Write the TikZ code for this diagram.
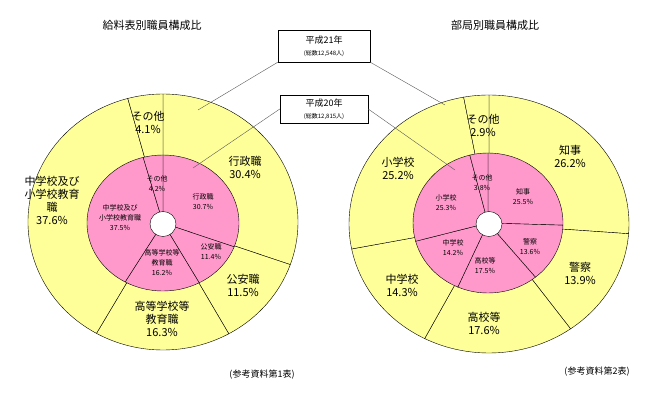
\documentclass[tikz,border=0pt]{standalone}
\usepackage{fontspec}
\setmainfont{Noto Sans CJK JP}
\begin{document}
\begin{tikzpicture}[x=1pt,y=-1pt,
  ob/.style={font=\fontsize{11}{13}\selectfont,align=center},
  ib/.style={font=\fontsize{7}{10}\selectfont,align=center},
  ln/.style={draw=black,line width=0.4pt}]
\useasboundingbox (0,0) rectangle (666,401);
\definecolor{yel}{HTML}{FFFF99}\definecolor{pnk}{HTML}{FF99CC}
\newcommand{\slice}[7]{% cx cy rx ry a b color
  \filldraw[fill=#7,ln] (#1,#2) -- ++(#5:#3 and #4) arc[start angle=#5,end angle=#6,x radius=#3,y radius=#4] -- cycle;}
% left
\foreach \a/\b in {-90/19.44,19.44/60.84,60.84/119.52,119.52/254.88,254.88/270}{\slice{163}{222}{135}{128}{\a}{\b}{yel}}
\foreach \a/\b in {-90/20.52,20.52/61.56,61.56/119.88,119.88/254.88,254.88/270}{\slice{163}{223}{76}{68}{\a}{\b}{pnk}}
\filldraw[fill=white,ln] (163,224) ellipse[x radius=13,y radius=12.5];
% right
\foreach \a/\b in {-90/4.32,4.32/54.36,54.36/117.36,117.36/168.84,168.84/259.56,259.56/270}{\slice{489}{224}{140}{129}{\a}{\b}{yel}}
\foreach \a/\b in {-90/1.8,1.8/50.76,50.76/113.76,113.76/164.88,164.88/255.96,255.96/270}{\slice{488}{223}{75}{70}{\a}{\b}{pnk}}
\filldraw[fill=white,ln] (489,224) ellipse[x radius=13,y radius=12.5];
% titles
\node[font=\fontsize{11}{13}\selectfont] (t1) at (152,25) {給料表別職員構成比};
\node[font=\fontsize{11}{13}\selectfont] (t2) at (495,25) {部局別職員構成比};
% boxes
\node[draw,fill=white,minimum width=92,minimum height=32,align=center,inner sep=1] (b21) at (324,46) {{\fontsize{9}{11}\selectfont 平成21年}\\{\fontsize{6}{8}\selectfont (総数12,548人)}};
\node[draw,fill=white,minimum width=88,minimum height=28,align=center,inner sep=1] (b20) at (324,109) {{\fontsize{9}{11}\selectfont 平成20年}\\{\fontsize{6}{8}\selectfont (総数12,815人)}};
\coordinate (l21) at (198,110); \coordinate (r21) at (445,105);
\coordinate (l20) at (193,168); \coordinate (r20) at (455,170);
\draw[gray!70!black] (b21.south west) -- (l21); \draw[gray!70!black] (b21.south east) -- (r21);
\draw[gray!70!black] (b20.west) -- (l20); \draw[gray!70!black] (b20.east) -- (r20);
% left labels
\node[ob] (lo1) at (148,122) {その他\\4.1\%};
\node[ob] (lo2) at (245,167) {行政職\\30.4\%};
\node[ob] (lo3) at (52,200) {中学校及び\\小学校教育\\職\\37.6\%};
\node[ob] (lo4) at (243,285) {公安職\\11.5\%};
\node[ob] (lo5) at (162,319) {高等学校等\\教育職\\16.3\%};
\node[ib] (li1) at (157,184) {その他\\4.2\%};
\node[ib] (li2) at (203,202) {行政職\\30.7\%};
\node[ib] (li3) at (120,218) {中学校及び\\小学校教育職\\37.5\%};
\node[ib] (li4) at (162,263) {高等学校等\\教育職\\16.2\%};
\node[ib] (li5) at (211,252) {公安職\\11.4\%};
% right labels
\node[ob] (ro1) at (483,125) {その他\\2.9\%};
\node[ob] (ro2) at (570,156) {知事\\26.2\%};
\node[ob] (ro3) at (398,168) {小学校\\25.2\%};
\node[ob] (ro4) at (580,273) {警察\\13.9\%};
\node[ob] (ro5) at (402,285) {中学校\\14.3\%};
\node[ob] (ro6) at (484,323) {高校等\\17.6\%};
\node[ib] (ri1) at (482,183) {その他\\3.8\%};
\node[ib] (ri2) at (446,203) {小学校\\25.3\%};
\node[ib] (ri3) at (523,197) {知事\\25.5\%};
\node[ib] (ri4) at (453,248) {中学校\\14.2\%};
\node[ib] (ri5) at (530,247) {警察\\13.6\%};
\node[ib] (ri6) at (485,266) {高校等\\17.5\%};
% notes
\node[font=\fontsize{9}{11}\selectfont] (n1) at (262,375) {(参考資料第1表)};
\node[font=\fontsize{9}{11}\selectfont] (n2) at (597,372) {(参考資料第2表)};
\end{tikzpicture}
\end{document}
